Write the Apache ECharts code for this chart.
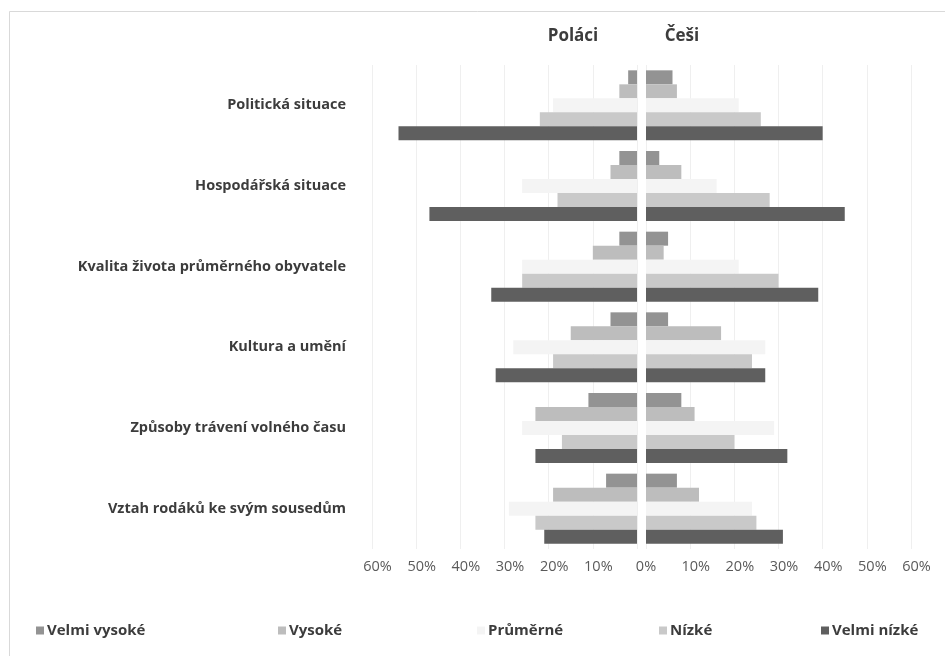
<!DOCTYPE html>
<html>
<head>
<meta charset="utf-8">
<script src="https://cdn.jsdelivr.net/npm/echarts@6/dist/echarts.min.js"></script>
<style>
  html, body { margin: 0; padding: 0; background: #fff; }
  #chart { width: 945px; height: 656px; }
</style>
</head>
<body>
<div id="chart"></div>
<script>
// Hodnocení oblastí – Poláci vs. Češi (podíl odpovědí v %)
const categories = [
  'Politická situace',
  'Hospodářská situace',
  'Kvalita života průměrného obyvatele',
  'Kultura a umění',
  'Způsoby trávení volného času',
  'Vztah rodáků ke svým sousedům'
];
const levels = ['Velmi vysoké', 'Vysoké', 'Průměrné', 'Nízké', 'Velmi nízké'];

// Poláci
const plVelmiVysoke = [2, 4, 4, 6, 11, 7];
const plVysoke      = [4, 6, 10, 15, 23, 19];
const plPrumerne    = [19, 26, 26, 28, 26, 29];
const plNizke       = [22, 18, 26, 19, 17, 23];
const plVelmiNizke  = [54, 47, 33, 32, 23, 21];

// Češi
const czVelmiVysoke = [6, 3, 5, 5, 8, 7];
const czVysoke      = [7, 8, 4, 17, 11, 12];
const czPrumerne    = [21, 16, 21, 27, 29, 24];
const czNizke       = [26, 28, 30, 24, 20, 25];
const czVelmiNizke  = [40, 45, 39, 27, 32, 31];

const xTicks = [0, 10, 20, 30, 40, 50, 60];

const colors = ['#939393', '#bdbdbd', '#f4f4f4', '#c9c9c9', '#5f5f5f'];
const plData = [plVelmiVysoke, plVysoke, plPrumerne, plNizke, plVelmiNizke];
const czData = [czVelmiVysoke, czVysoke, czPrumerne, czNizke, czVelmiNizke];

const FONT = '"Open Sans"';
const gridTop = 65, gridHeight = 484;

function xAxisFor(gridIndex, inverse, showZero) {
  return {
    type: 'value', gridIndex: gridIndex, inverse: inverse,
    min: xTicks[0], max: xTicks[xTicks.length - 1], interval: 10,
    axisLine: { show: false }, axisTick: { show: false },
    splitLine: { show: true, lineStyle: { color: '#efefef', width: 1 } },
    axisLabel: {
      margin: 10,
      formatter: function (v) {
        if (v === 0) return showZero ? '{z|0%}' : '';
        return '{a|' + v + '%}';
      },
      rich: {
        a: { fontFamily: FONT, fontSize: 14.5, color: '#5a5a5a', padding: [0, 0, 0, 11] },
        z: { fontFamily: FONT, fontSize: 14.5, color: '#5a5a5a' }
      }
    }
  };
}

function yAxisFor(gridIndex, showLabels) {
  return {
    type: 'category', gridIndex: gridIndex, data: categories, inverse: true,
    axisLine: { show: false }, axisTick: { show: false },
    splitLine: { show: false },
    axisLabel: showLabels ? {
      margin: 26, fontFamily: FONT, fontSize: 14.5, fontWeight: 'bold', color: '#3c3c3c'
    } : { show: false }
  };
}

const series = [];
levels.forEach(function (name, i) {
  series.push({
    name: name, type: 'bar', xAxisIndex: 0, yAxisIndex: 0,
    data: plData[i], barWidth: 14, barGap: '0%',
    itemStyle: { color: colors[i] }
  });
});
levels.forEach(function (name, i) {
  series.push({
    name: name, type: 'bar', xAxisIndex: 1, yAxisIndex: 1,
    data: czData[i], barWidth: 14, barGap: '0%',
    itemStyle: { color: colors[i] }
  });
});

// one legend entry per level, spread along the bottom row
const legendLeft = [31, 273, 472, 654, 816];
const legends = levels.map(function (name, i) {
  return {
    data: [name], left: legendLeft[i], top: 618,
    icon: 'rect', itemWidth: 8, itemHeight: 8, itemGap: 4,
    textStyle: { fontFamily: FONT, fontSize: 15, fontWeight: 'bold', color: '#3c3c3c', padding: [0, 0, 0, -2] }
  };
});

const chart = echarts.init(document.getElementById('chart'), null, { renderer: 'canvas' });
chart.setOption({
  backgroundColor: '#ffffff',
  animation: false,
  title: [
    { text: 'Poláci', left: 568, top: 23, textAlign: 'center',
      textStyle: { fontFamily: FONT, fontSize: 17, fontWeight: 'bold', color: '#3c3c3c' } },
    { text: 'Češi', left: 677, top: 23, textAlign: 'center',
      textStyle: { fontFamily: FONT, fontSize: 17, fontWeight: 'bold', color: '#3c3c3c' } }
  ],
  legend: legends,
  grid: [
    { left: 372, width: 265, top: gridTop, height: gridHeight },
    { left: 646, width: 265, top: gridTop, height: gridHeight }
  ],
  xAxis: [xAxisFor(0, true, false), xAxisFor(1, false, true)],
  yAxis: [yAxisFor(0, true), yAxisFor(1, false)],
  series: series,
  graphic: [{
    type: 'rect', left: 7, top: 9, silent: true,
    shape: { width: 960, height: 670 },
    style: { fill: 'none', stroke: '#d9d9d9', lineWidth: 1 }
  }]
});
</script>
</body>
</html>
